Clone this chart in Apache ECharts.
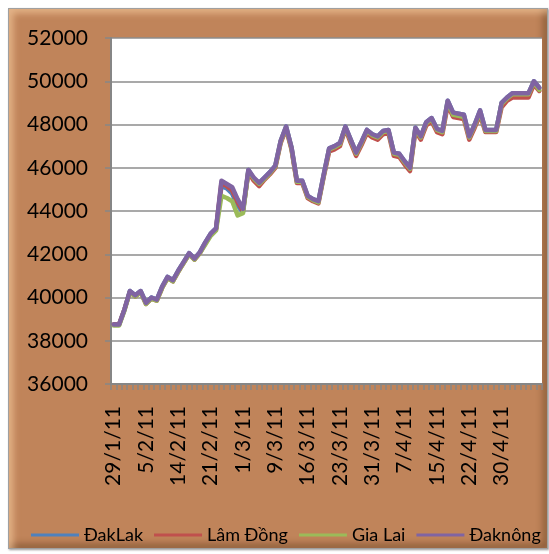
<!DOCTYPE html>
<html>
<head>
<meta charset="utf-8">
<script src="https://cdn.jsdelivr.net/npm/echarts@6/dist/echarts.min.js"></script>
<style>
html,body{margin:0;padding:0;background:#fff;}
#wrap{position:relative;width:549px;height:554px;}
#bg{position:absolute;left:8px;top:8px;width:540px;height:541px;background:#c0845a;
box-shadow: inset 4px 4px 7px rgba(255,215,170,0.6), inset -4px -4px 7px rgba(80,45,20,0.45), 1px 1px 2px rgba(0,0,0,0.4);
border:1px solid #a0a0a0;box-sizing:border-box;}
#chart{position:absolute;left:0;top:0;width:549px;height:554px;}
</style>
</head>
<body>
<div id="wrap"><div id="bg"></div><div id="chart"></div></div>
<script>
const categories = [
 '29/1/11','31/1/11','1/2/11','2/2/11','3/2/11','4/2/11',
 '5/2/11','7/2/11','8/2/11','9/2/11','10/2/11','11/2/11',
 '14/2/11','15/2/11','16/2/11','17/2/11','18/2/11','19/2/11',
 '21/2/11','22/2/11','23/2/11','24/2/11','25/2/11','28/2/11',
 '1/3/11','2/3/11','3/3/11','4/3/11','7/3/11','8/3/11',
 '9/3/11','10/3/11','11/3/11','12/3/11','14/3/11','15/3/11',
 '16/3/11','17/3/11','18/3/11','19/3/11','21/3/11','22/3/11',
 '23/3/11','24/3/11','25/3/11','28/3/11','29/3/11','30/3/11',
 '31/3/11','1/4/11','2/4/11','4/4/11','5/4/11','6/4/11',
 '7/4/11','8/4/11','11/4/11','12/4/11','13/4/11','14/4/11',
 '15/4/11','16/4/11','18/4/11','19/4/11','20/4/11','21/4/11',
 '22/4/11','25/4/11','26/4/11','27/4/11','28/4/11','29/4/11',
 '30/4/11','3/5/11','4/5/11','5/5/11','6/5/11','7/5/11','9/5/11','10/5/11'
];
const dakLak = [
 38750,38750,39450,40300,40100,40300,39750,40000,39900,40500,
 40950,40800,41250,41650,42050,41800,42100,42550,42950,43200,
 45150,45050,44800,44250,43950,45900,45500,45300,45550,45800,
 46100,47250,47900,46950,45400,45400,44700,44550,44450,45700,
 46900,47000,47150,47900,47300,46700,47200,47750,47550,47450,
 47700,47750,46700,46650,46300,46000,47850,47450,48100,48300,
 47800,47700,49100,48550,48500,48450,47450,48000,48650,47750,
 47750,47750,49000,49250,49450,49450,49450,49450,50000,49700
];
const lamDong = [
 38750,38750,39450,40250,40050,40250,39700,39950,39850,40450,
 40900,40750,41200,41600,42000,41750,42050,42500,42900,43150,
 45300,45150,44950,44400,44000,45800,45400,45150,45450,45700,
 46000,47150,47800,46850,45300,45300,44600,44450,44350,45600,
 46750,46850,47000,47800,47150,46550,47050,47600,47400,47300,
 47550,47600,46550,46500,46150,45850,47700,47300,47950,48150,
 47650,47550,48900,48350,48300,48250,47300,47850,48450,47650,
 47650,47650,48800,49100,49250,49250,49250,49250,49850,49550
];
const giaLai = [
 38700,38700,39400,40250,40050,40250,39700,39950,39850,40450,
 40900,40750,41200,41600,42000,41750,42050,42450,42850,43100,
 44700,44600,44450,43800,43900,45850,45500,45250,45500,45750,
 46050,47200,47850,46900,45350,45350,44650,44500,44400,45650,
 46850,46950,47100,47850,47250,46650,47150,47700,47500,47400,
 47650,47700,46650,46600,46250,45950,47800,47400,48050,48250,
 47750,47650,49050,48450,48400,48350,47400,47950,48550,47700,
 47700,47700,48950,49200,49400,49400,49400,49400,49950,49600
];
const dakNong = [
 38750,38750,39450,40300,40100,40300,39750,40000,39900,40500,
 40950,40800,41250,41650,42050,41800,42100,42550,42950,43200,
 45400,45250,45100,44550,44100,45900,45550,45300,45550,45800,
 46100,47250,47900,46950,45400,45400,44700,44550,44450,45700,
 46900,47000,47150,47900,47300,46700,47200,47750,47550,47450,
 47700,47750,46700,46650,46300,46000,47850,47450,48100,48300,
 47800,47700,49100,48550,48500,48450,47450,48000,48650,47750,
 47750,47750,49000,49250,49450,49450,49450,49450,50000,49700
];
const shownLabels = ['29/1/11','5/2/11','14/2/11','21/2/11','1/3/11','9/3/11','16/3/11',
 '23/3/11','31/3/11','7/4/11','15/4/11','22/4/11','30/4/11'];
const seriesNames = ['ĐakLak','Lâm Đồng','Gia Lai','Đaknông'];
const seriesColors = ['#4f81bd','#c0504d','#9bbb59','#8064a2'];
const seriesData = [dakLak, lamDong, giaLai, dakNong];
const yMin = 36000, yMax = 52000, yStep = 2000;

const FONT = 'Lato, "Open Sans", sans-serif';
const chart = echarts.init(document.getElementById('chart'), null, {renderer:'canvas'});
chart.setOption({
  backgroundColor: 'transparent',
  animation: false,
  grid: {left: 111, top: 38, right: 7, bottom: 170, backgroundColor: '#fff', show: true, borderWidth: 0},
  legend: {
    left: 26, top: 521, right: 0, icon: 'rect', itemWidth: 48, itemHeight: 3, itemGap: 11,
    textStyle: {fontFamily: FONT, fontSize: 18, color: '#000'},
    data: seriesNames
  },
  xAxis: {
    type: 'category', data: categories, boundaryGap: true,
    axisLine: {lineStyle: {color: '#868686', width: 2}},
    axisTick: {show: true, length: 6, interval: 0, lineStyle: {color: '#868686', width: 1.5}},
    axisLabel: {
      interval: (idx, val) => shownLabels.indexOf(val) >= 0,
      rotate: 90, margin: 22, fontFamily: FONT, fontSize: 21, color: '#000'
    },
    splitLine: {show: false}
  },
  yAxis: {
    type: 'value', min: yMin, max: yMax, interval: yStep,
    axisLine: {show: true, lineStyle: {color: '#868686', width: 2}},
    axisTick: {show: true, length: 6, lineStyle: {color: '#868686', width: 1.5}},
    axisLabel: {margin: 23, fontFamily: FONT, fontSize: 21, color: '#000', formatter: v => String(v)},
    splitLine: {lineStyle: {color: '#8c8c8c', width: 1.5}}
  },
  series: seriesNames.map((n, i) => ({
    name: n, type: 'line', data: seriesData[i], symbol: 'none', showSymbol: false,
    color: seriesColors[i],
    lineStyle: {width: 4.5, color: seriesColors[i], join: 'round', cap: 'round'},
    z: 2 + i
  }))
});
</script>
</body>
</html>
